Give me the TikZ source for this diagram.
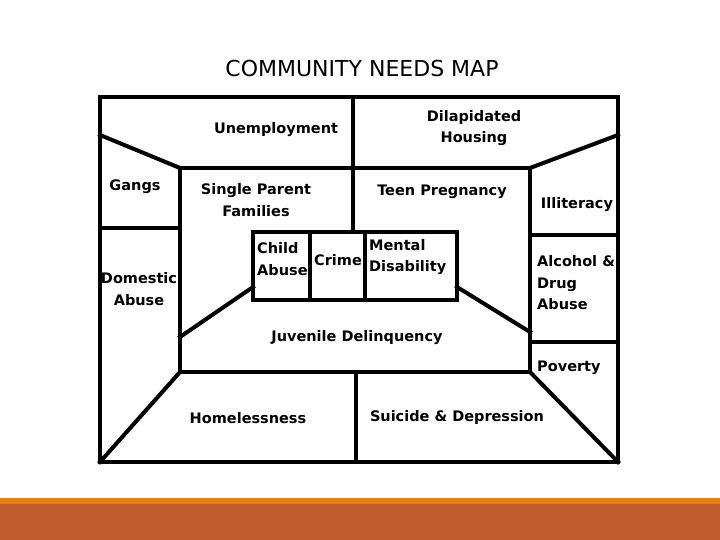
\documentclass[tikz,border=0pt]{standalone}
\usepackage{fontspec}
\setmainfont{DejaVu Sans}
\usetikzlibrary{calc}
\definecolor{stripe}{HTML}{E0821A}
\definecolor{band}{HTML}{BE5A2C}
\tikzstyle{wall}=[draw,line width=4pt,line cap=rect,line join=miter]
\tikzstyle{need}=[font=\bfseries\fontsize{14.5}{21.5}\selectfont,inner sep=0pt,align=center]

\begin{document}
\begin{tikzpicture}[
  x=1pt,y=-1pt,
  left need/.style={need,align=left,anchor=west},
]
\useasboundingbox (0,0) rectangle (720,540);
% bottom band
\fill[band] (0,504) rectangle (720,540);
\fill[stripe] (0,498) rectangle (720,504);

% corners of the room
\coordinate (ol) at (100,97);
\coordinate (or) at (618,462);
\coordinate (itl) at (180,168);
\coordinate (itr) at (530,168);
\coordinate (ibl) at (180,372);
\coordinate (ibr) at (530,372);
\coordinate (bl) at (253,232);
\coordinate (br) at (457,300);

\draw[wall] (ol) rectangle (or);
\draw[wall] (itl) rectangle (ibr);
\draw[wall] (100,135) -- (itl);
\draw[wall] (618,135) -- (itr);
\draw[wall] (100,462) -- (ibl);
\draw[wall] (618,462) -- (ibr);
\draw[wall] (353,97) -- (353,232);
\draw[wall] (100,228) -- (180,228);
\draw[wall] (530,235) -- (618,235);
\draw[wall] (530,342) -- (618,342);
\draw[wall] (356,372) -- (356,462);
% middle box
\draw[wall,fill=white] (bl) rectangle (br);
\draw[wall] (310,232) -- (310,300);
\draw[wall] (365,232) -- (365,300);
\draw[wall] (253,287) -- (180,337);
\draw[wall] (457,287) -- (530,332);

\node (title) at (362,68) {\fontsize{22}{26}\selectfont COMMUNITY NEEDS MAP};

\node[need] (unemp) at (276,130) {Unemployment};
\node[need] (housing) at (474,128) {Dilapidated\\Housing};
\node[need] (gangs) at (135,187) {Gangs};
\node[need] (single) at (256,200) {Single Parent\\Families};
\node[need] (teen) at (442,192) {Teen Pregnancy};
\node[need] (illit) at (577,205) {Illiteracy};
\node[left need] (child) at (257,259) {Child\\Abuse};
\node[need] (crime) at (338,260) {Crime};
\node[left need] (mental) at (369,257) {Mental\\Disability};
\node[need] (domestic) at (139,289) {Domestic\\Abuse};
\node[left need] (alcohol) at (537,283) {Alcohol \&\\Drug\\Abuse};
\node[need] (juvenile) at (357,338) {Juvenile Delinquency};
\node[left need] (poverty) at (537,368) {Poverty};
\node[need] (homeless) at (248,418) {Homelessness};
\node[need] (suicide) at (457,417) {Suicide \& Depression};
\end{tikzpicture}
\end{document}
